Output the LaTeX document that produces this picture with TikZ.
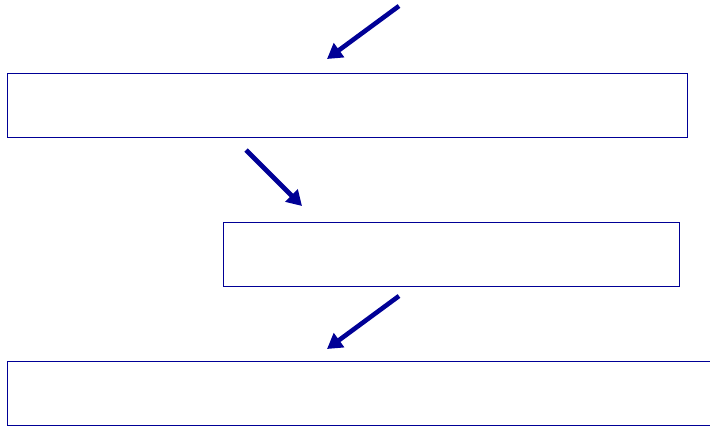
\documentclass[tikz,border=0pt]{standalone}
\usetikzlibrary{arrows.meta}
\definecolor{navy}{RGB}{0,0,150}
\tikzset{
  box/.style={draw=navy, line width=1.1pt, inner sep=0pt, anchor=north west},
  flow/.style={draw=navy, line width=4.6pt, -{Triangle[length=15pt,width=17pt]}}
}
\begin{document}
\begin{tikzpicture}[x=1pt,y=-1pt]
\useasboundingbox (0,0) rectangle (710,426);
\node[box, minimum width=680pt, minimum height=64pt] (b1) at (7,73) {};
\node[box, minimum width=456pt, minimum height=64pt] (b2) at (223,222) {};
\node[box, minimum width=712pt, minimum height=64pt] (b3) at (7,361) {};
\coordinate (a1s) at (399,6);
\coordinate (a1e) at (327,59);
\coordinate (a2s) at (246,150);
\coordinate (a2e) at (302,206);
\coordinate (a3s) at (399,296);
\coordinate (a3e) at (327,349);
\draw[flow] (a1s) -- (a1e);
\draw[flow] (a2s) -- (a2e);
\draw[flow] (a3s) -- (a3e);
\end{tikzpicture}
\end{document}
